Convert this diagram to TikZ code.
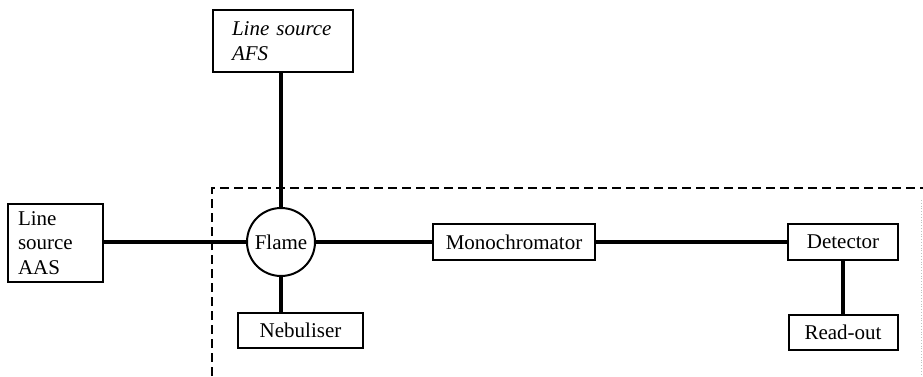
\documentclass[tikz,border=0pt]{standalone}
\usepackage{fontspec}
\setmainfont{Liberation Serif}
\begin{document}
\begin{tikzpicture}[x=1pt,y=-1pt,
  box/.style={draw,line width=2pt,rectangle,inner sep=0pt,font=\fontsize{21}{24.5}\selectfont},
  conn/.style={line width=3.2pt},
  frame/.style={line width=1.5pt,dash pattern=on 9pt off 5pt}]
\useasboundingbox (0,0) rectangle (923,376);
\node[box,minimum width=95pt,minimum height=78pt,text width=75pt,align=left] (aas) at (55.5,243) {Line\\source\\AAS};
\node[box,minimum width=140pt,minimum height=62pt,text width=102pt,align=left,font=\fontsize{21}{24.5}\selectfont\itshape] (afs) at (283,41) {Line source\\AFS};
\node[draw,circle,line width=2pt,minimum size=68pt,inner sep=0pt,font=\fontsize{21}{24.5}\selectfont] (flame) at (281,242) {Flame};
\node[box,minimum width=162pt,minimum height=36pt] (mono) at (514,242) {Monochromator};
\node[box,minimum width=110pt,minimum height=36pt] (det) at (843,242) {Detector};
\node[box,minimum width=109pt,minimum height=35pt] (read) at (843,332) {Read-out};
\node[box,minimum width=125pt,minimum height=35pt] (neb) at (300.5,330.5) {Nebuliser};
\coordinate (fbl) at (212,376);
\coordinate (ftl) at (212,188);
\coordinate (ftr) at (923,188);
\coordinate (rtop) at (921,200);
\coordinate (rbot) at (921,376);
\draw[frame] (fbl) -- (ftl) -- (ftr);
\draw[gray!50,line width=0.8pt,dotted] (rtop) -- (rbot);
\draw[conn] (aas.east |- flame.west) -- (flame.west);
\draw[conn] (flame.east) -- (mono.west);
\draw[conn] (mono.east) -- (det.west);
\draw[conn] (flame.north |- afs.south) -- (flame.north);
\draw[conn] (flame.south) -- (flame.south |- neb.north);
\draw[conn] (det.south) -- (read.north);
\end{tikzpicture}
\end{document}
